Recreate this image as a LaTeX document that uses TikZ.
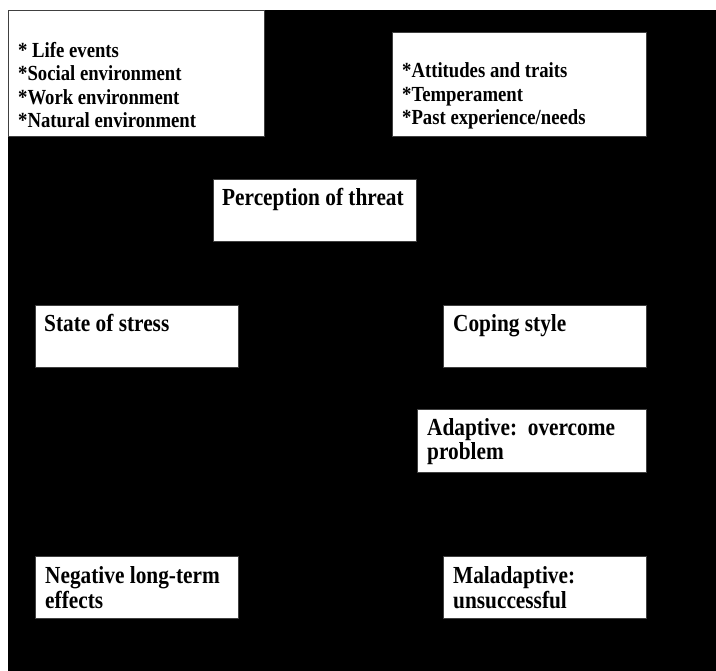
\documentclass[tikz,border=0pt]{standalone}
\usepackage{fontspec}
\setmainfont{Liberation Serif}[FakeStretch=0.87]
\begin{document}
\begin{tikzpicture}[x=1pt,y=-1pt,
  box/.style={draw=black!75,line width=0.9pt,fill=white,inner sep=0pt,anchor=north west},
  smalltxt/.style={inner sep=0pt,anchor=base west,align=left,font=\fontsize{21.5}{23.5}\selectfont\bfseries},
  bigtxt/.style={inner sep=0pt,anchor=base west,align=left,font=\fontsize{24.5}{24.5}\selectfont\bfseries}]
\useasboundingbox (0,0) rectangle (716,671);
\fill[black] (8,10) rectangle (716,671);
% boxes
\node[box,minimum width=256pt,minimum height=126pt] (env) at (8,10) {};
\node[box,minimum width=254pt,minimum height=104pt] (pers) at (392,32) {};
\node[box,minimum width=203pt,minimum height=62pt] (threat) at (213,179) {};
\node[box,minimum width=203pt,minimum height=62pt] (stress) at (35,305) {};
\node[box,minimum width=203pt,minimum height=62pt] (coping) at (443,305) {};
\node[box,minimum width=229pt,minimum height=63pt] (adapt) at (417,409) {};
\node[box,minimum width=203pt,minimum height=62pt] (neg) at (35,556) {};
\node[box,minimum width=203pt,minimum height=62pt] (mal) at (443,556) {};
% texts (anchor = baseline of the last line)
\node[smalltxt] (envt) at (18,128) {* Life events\\*Social environment\\*Work environment\\*Natural environment};
\node[smalltxt] (perst) at (402,125) {*Attitudes and traits\\*Temperament\\*Past experience/needs};
\node[bigtxt] (threatt) at (222,206) {Perception of threat};
\node[bigtxt] (stresst) at (44,332) {State of stress};
\node[bigtxt] (copingt) at (453,332) {Coping style};
\node[bigtxt] (adaptt) at (427,460) {Adaptive:\ \ overcome\\problem};
\node[bigtxt] (negt) at (45,608) {Negative long-term\\effects};
\node[bigtxt] (malt) at (453,608) {Maladaptive:\\unsuccessful};
\end{tikzpicture}
\end{document}
